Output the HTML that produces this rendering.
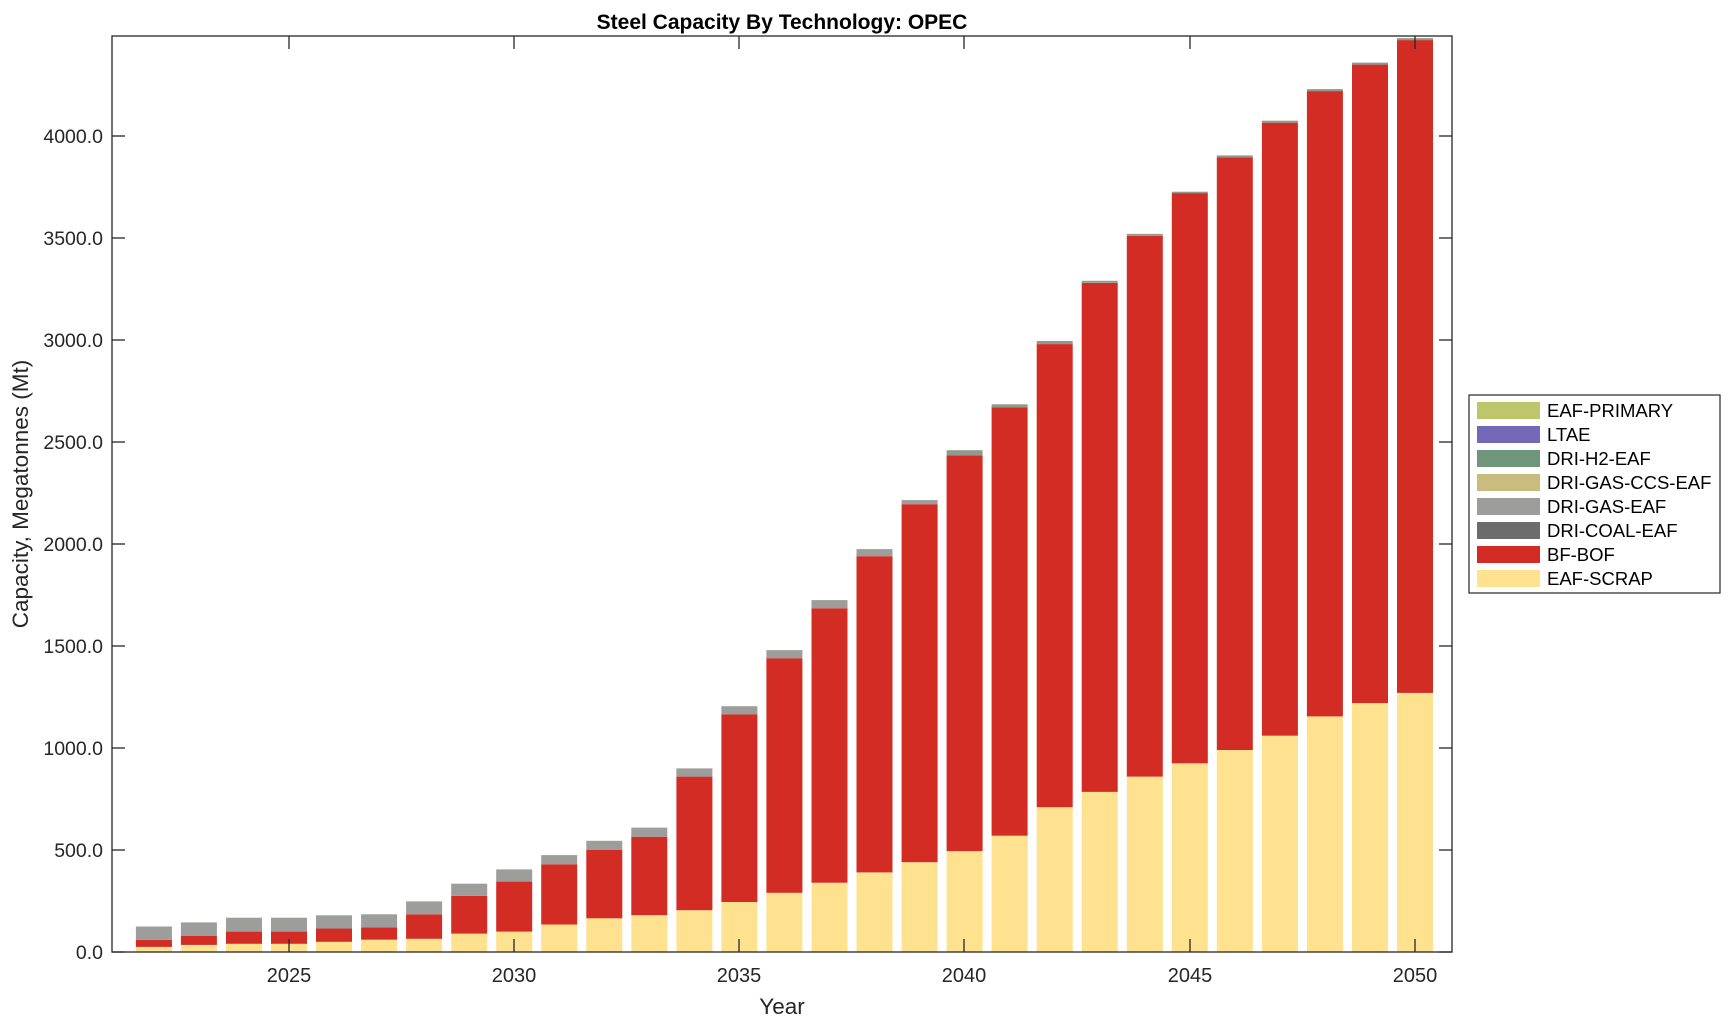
<!DOCTYPE html>
<html><head><meta charset="utf-8"><style>
body{margin:0;background:#fff}
svg{font-family:"Liberation Sans",Arial,sans-serif;display:block}
</style></head><body>
<svg id="s" width="1731" height="1021" viewBox="0 0 1731 1021">
<rect width="1731" height="1021" fill="#fff"/>
<g id="bars"></g>
<rect x="112" y="36" width="1340" height="916" fill="none" stroke="#262626" stroke-width="1.3"/>
<g stroke="#262626" stroke-width="1.3">
<line x1="112" y1="952" x2="125" y2="952"/><line x1="1452" y1="952" x2="1439" y2="952"/>
<line x1="112" y1="850" x2="125" y2="850"/><line x1="1452" y1="850" x2="1439" y2="850"/>
<line x1="112" y1="748" x2="125" y2="748"/><line x1="1452" y1="748" x2="1439" y2="748"/>
<line x1="112" y1="646" x2="125" y2="646"/><line x1="1452" y1="646" x2="1439" y2="646"/>
<line x1="112" y1="544" x2="125" y2="544"/><line x1="1452" y1="544" x2="1439" y2="544"/>
<line x1="112" y1="442" x2="125" y2="442"/><line x1="1452" y1="442" x2="1439" y2="442"/>
<line x1="112" y1="340" x2="125" y2="340"/><line x1="1452" y1="340" x2="1439" y2="340"/>
<line x1="112" y1="238" x2="125" y2="238"/><line x1="1452" y1="238" x2="1439" y2="238"/>
<line x1="112" y1="136" x2="125" y2="136"/><line x1="1452" y1="136" x2="1439" y2="136"/>
<line x1="289" y1="952" x2="289" y2="939"/><line x1="289" y1="36" x2="289" y2="49"/>
<line x1="514" y1="952" x2="514" y2="939"/><line x1="514" y1="36" x2="514" y2="49"/>
<line x1="739" y1="952" x2="739" y2="939"/><line x1="739" y1="36" x2="739" y2="49"/>
<line x1="964" y1="952" x2="964" y2="939"/><line x1="964" y1="36" x2="964" y2="49"/>
<line x1="1190" y1="952" x2="1190" y2="939"/><line x1="1190" y1="36" x2="1190" y2="49"/>
<line x1="1415" y1="952" x2="1415" y2="939"/><line x1="1415" y1="36" x2="1415" y2="49"/>
</g>
<g font-size="19.5" fill="#262626" text-anchor="end">
<text x="103" y="959">0.0</text><text x="103" y="857">500.0</text><text x="103" y="755">1000.0</text>
<text x="103" y="653">1500.0</text><text x="103" y="551">2000.0</text><text x="103" y="449">2500.0</text>
<text x="103" y="347">3000.0</text><text x="103" y="245">3500.0</text><text x="103" y="143">4000.0</text>
</g>
<g font-size="20" fill="#262626" text-anchor="middle">
<text x="289" y="982">2025</text><text x="514" y="982">2030</text><text x="739" y="982">2035</text>
<text x="964" y="982">2040</text><text x="1190" y="982">2045</text><text x="1415" y="982">2050</text>
<text x="782" y="1014" font-size="22.5">Year</text>
<text x="782" y="29" font-size="21" font-weight="bold" fill="#000">Steel Capacity By Technology: OPEC</text>
<text transform="translate(28,494) rotate(-90)" font-size="22.5">Capacity, Megatonnes (Mt)</text>
</g>
<rect x="1469" y="395" width="251" height="198" fill="#fff" stroke="#262626" stroke-width="1.2"/>
<g font-size="18.5" fill="#000">
<rect x="1477" y="402" width="63" height="17" fill="#bdc66b"/><text x="1547" y="417">EAF-PRIMARY</text>
<rect x="1477" y="426" width="63" height="17" fill="#7369b8"/><text x="1547" y="441">LTAE</text>
<rect x="1477" y="450" width="63" height="17" fill="#6f957a"/><text x="1547" y="465">DRI-H2-EAF</text>
<rect x="1477" y="474" width="63" height="17" fill="#c8bd7e"/><text x="1547" y="489">DRI-GAS-CCS-EAF</text>
<rect x="1477" y="498" width="63" height="17" fill="#9d9d9b"/><text x="1547" y="513">DRI-GAS-EAF</text>
<rect x="1477" y="522" width="63" height="17" fill="#6c6c6c"/><text x="1547" y="537">DRI-COAL-EAF</text>
<rect x="1477" y="546" width="63" height="17" fill="#d22c25"/><text x="1547" y="561">BF-BOF</text>
<rect x="1477" y="570" width="63" height="17" fill="#fee290"/><text x="1547" y="585">EAF-SCRAP</text>
</g>
</svg>
<script>
var d=[[25,60,125],[35,80,145],[40,100,168],[40,100,168],[50,115,180],[60,120,185],[65,185,248],[90,275,335],[100,345,405],[135,430,475],[165,500,545],[180,565,610],[205,860,900],[245,1165,1205],[290,1440,1480],[340,1685,1725],[390,1940,1975],[440,2195,2215],[495,2435,2460],[570,2670,2685],[710,2980,2995],[785,3280,3290],[860,3510,3520],[925,3720,3727],[990,3895,3905],[1060,4065,4075],[1155,4220,4230],[1220,4350,4360],[1270,4470,4480]];
var g=document.getElementById('bars'),h='';
function Y(v){return 952-v*0.204;}
d.forEach(function(r,i){var cx=289+(i-3)*45.04,x=cx-18;
var c=['#fee290','#d22c25',i>17?'#8f9a8c':'#9d9d9b'],p=0;
r.forEach(function(v,k){h+='<rect x="'+x.toFixed(1)+'" y="'+Y(v).toFixed(1)+'" width="36" height="'+(Y(p)-Y(v)).toFixed(1)+'" fill="'+c[k]+'"/>';p=v;});});
g.innerHTML=h;
</script>
</body></html>
